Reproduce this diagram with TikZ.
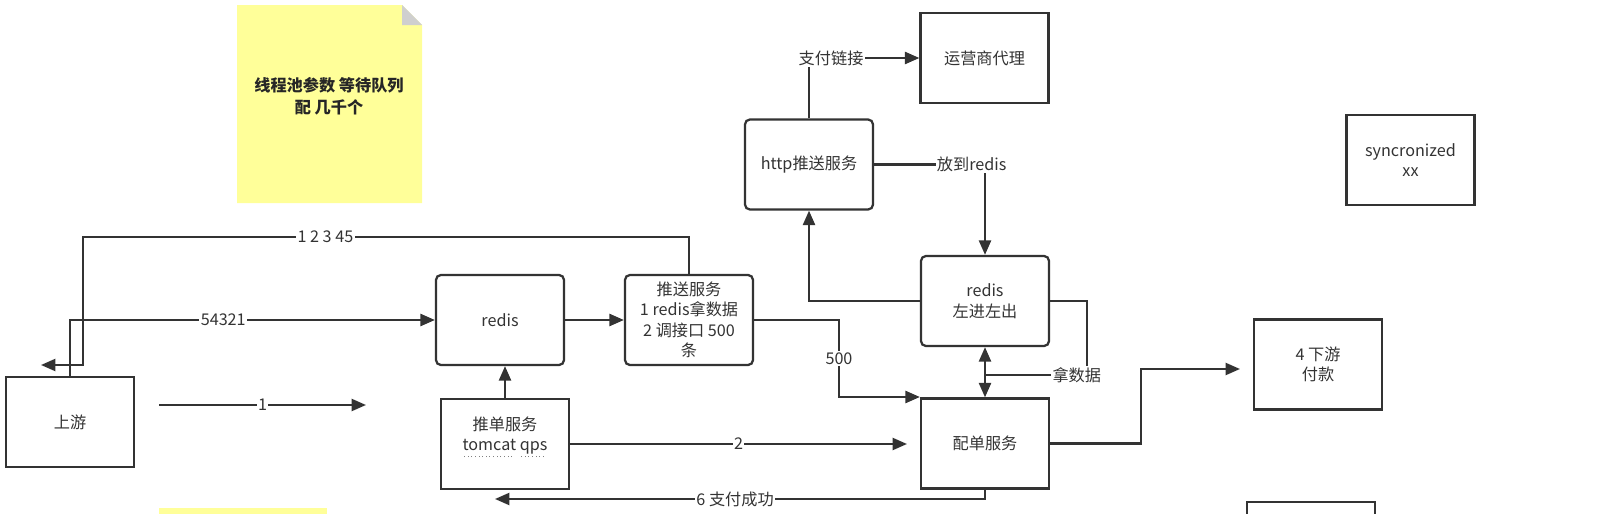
\documentclass[tikz,border=0pt]{standalone}
\usepackage{fontspec}
\setmainfont{Noto Sans CJK SC}
\usetikzlibrary{arrows.meta}

\definecolor{ink}{HTML}{333333}
\definecolor{notefill}{HTML}{FFFF99}
\definecolor{foldgray}{HTML}{CFCFCF}

\newlength\dotw
\newcommand\dotul[1]{\settowidth\dotw{#1}\leavevmode\rlap{\raisebox{-4.5pt}{\hbox to \dotw{\color{gray}\leaders\hbox to 2.6pt{\hss\rule{0.7pt}{0.7pt}\hss}\hfill}}}#1}

\tikzset{
  box/.style={draw=ink, line width=1.6pt, minimum width=3.2cm, minimum height=2.25cm,
    align=center, text=ink, inner sep=2pt},
  rbox/.style={box, rounded corners=3.5pt},
  link/.style={draw=ink, line width=1.6pt},
  arr/.style={link, -{Triangle[length=3.6mm, width=3mm]}},
  lbl/.style={fill=white, text=ink, inner sep=1pt},
}

\begin{document}
\begin{tikzpicture}[x=0.025cm, y=-0.025cm, font=\fontsize{11.5}{14.6}\selectfont]
    \useasboundingbox (0,0) rectangle (1604,513);
    \clip (0,0) rectangle (1604,513);

    % Note
    \fill[notefill] (237,5) -- (402,5) -- (422,25) -- (422,203) -- (237,203) -- cycle;
    \fill[foldgray] (402,5) -- (402,25) -- (422,25) -- cycle;
    \node[align=center, text=black!85, font=\fontsize{11.5}{15.6}\selectfont\bfseries] (noteText) at (329,96)
        {线程池参数 等待队列\\配 几千个};
    \fill[notefill] (159,508) rectangle (327,530);

    % Boxes
    \node[box] (shang) at (70,422) {上游};
    \node[rbox] (redisA) at (500,320) {redis};
    \node[rbox] (tuisong) at (689,320) {推送服务\\1 redis拿数据\\2 调接口 500\\条};
    \node[box] (tuidan) at (505,444) {推单服务\\\dotul{tomcat} \dotul{qps}\\\mbox{}};
    \node[rbox] (redisB) at (985,301) {redis\\左进左出};
    \node[box] (peidan) at (985,443.5) {配单服务};
    \node[rbox] (http) at (809,164.5) {http推送服务};
    \node[box] (yunying) at (984.5,58) {运营商代理};
    \node[box] (sync) at (1410.5,160) {syncronized\\xx};
    \node[box] (xiayou) at (1318,364.5) {4 下游\\付款};
    \node[box, anchor=north] (cutbox) at (1311,501) {};

    % Free ends
    \coordinate (retA) at (41,365);
    \coordinate (oneS) at (159,405);
    \coordinate (oneE) at (366,405);
    \coordinate (twoE) at (907,444);
    \coordinate (sixE) at (495,499);
    \coordinate (downE) at (1240,369);

    % Connectors
    \draw[arr] (tuisong.north) -- (689,237) -- node[lbl, pos=0.6] {1 2 3 45} (83,237) -- (83,365) -- (retA);
    \draw[arr] (shang.north) -- (70,320) -- node[lbl, pos=0.42] {54321} (redisA.west);
    \draw[arr] (oneS) -- node[lbl] {1} (oneE);
    \draw[arr] (redisA) -- (tuisong);
    \draw[arr] (tuidan.north) -- (tuidan.north |- redisA.south);
    \draw[arr] (tuidan.east) -- node[lbl] {2} (twoE);
    \draw[arr] (tuisong.east) -- (839,320) -- node[lbl] {500} (839,397) -- (peidan.west |- 0,397);
    \draw[arr] (peidan.south) -- (985,499) -- node[lbl, pos=0.51] {6 支付成功} (sixE);
    \draw[arr] (peidan.east) -- (1141,443.5) -- (1141,369) -- (downE);
    \draw[link, {Triangle[length=3.6mm, width=3mm]}-{Triangle[length=3.6mm, width=3mm]}] (redisB.south) -- (peidan.north);
    \draw[link] (redisB.east) -- (1087,301) -- (1087,375) -- node[lbl, pos=0.1] {拿数据} (985,375);
    \draw[arr] (http.north) |- node[lbl, pos=0.6] {支付链接} (yunying.west);
    \draw[arr] (http.east) -| node[lbl, pos=0.44] {放到redis} (redisB.north);
    \draw[arr] (redisB.west) -| (http.south);
\end{tikzpicture}
\end{document}
